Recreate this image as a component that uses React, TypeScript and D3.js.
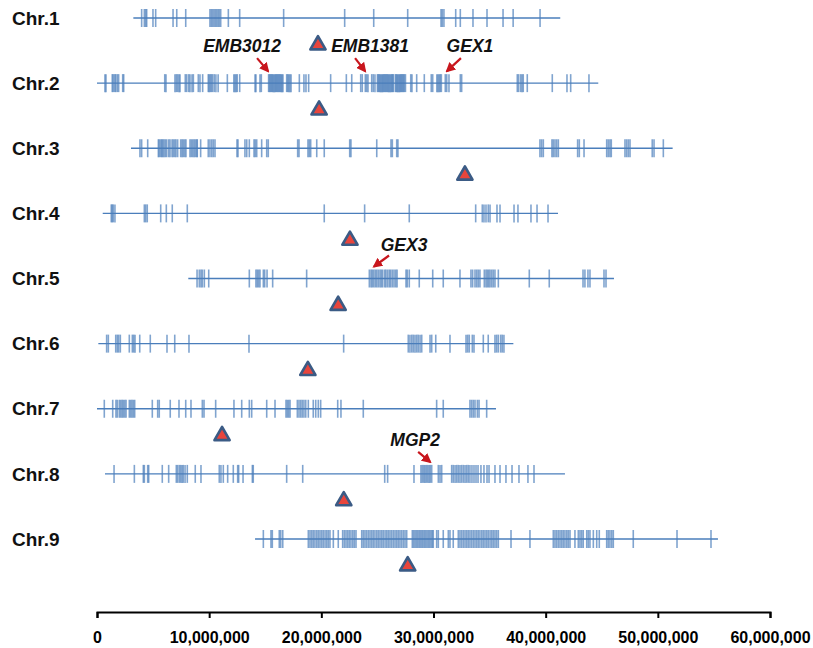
import React, { useEffect, useRef } from 'react';
import * as d3 from 'd3';

// chromosome names
const chromosomes = ['Chr.1', 'Chr.2', 'Chr.3', 'Chr.4', 'Chr.5', 'Chr.6', 'Chr.7', 'Chr.8', 'Chr.9'];

// chromosome span drawn as a line, Mb [start, end]
const spans: [number, number][] = [
  [3.24, 41.3], [0, 44.69], [3.03, 51.32], [0.51, 41.1], [8.14, 46.09],
  [0.12, 37.12], [0, 35.57], [0.71, 41.72], [14.09, 55.36],
];

// centromere position, Mb
const centromeres = [19.7, 19.8, 32.8, 22.55, 21.5, 18.8, 11.15, 22.0, 27.7];

// marker positions, Mb
const chr1 = [3.98, 4.22, 4.34, 4.43, 4.99, 5.23, 6.78, 7.11, 7.91, 10.07, 10.19, 10.31, 10.43, 10.55, 10.67, 10.79, 10.9, 11.03, 11.71, 12.72, 16.64, 22.08, 24.67, 27.7, 30.67, 30.78, 30.93, 31.98, 32.39, 33.52, 34.77, 36.2, 37.1, 39.5];
const chr2 = [0.71, 0.8, 1.36, 1.45, 1.58, 1.67, 1.81, 1.93, 2.29, 2.38, 6.04, 6.15, 6.95, 7.07, 7.19, 7.31, 7.4, 7.87, 8.0, 8.18, 8.29, 8.47, 8.59, 9.03, 9.18, 9.42, 9.92, 10.0, 10.1, 10.2, 10.3, 10.45, 10.6, 10.8, 11.62, 12.2, 12.3, 12.4, 12.5, 12.72, 14.09, 14.17, 14.53, 14.65,
  15.3, 15.38, 15.46, 15.54, 15.62, 15.7, 15.78, 15.86, 15.94, 16.02, 16.1, 16.18, 16.26, 16.34, 16.42, 16.5, 16.58, 16.91, 17.0, 17.1, 17.2, 17.3, 18.04, 18.45, 18.63, 18.87, 20.83, 22.23, 22.71, 23.51, 23.65, 23.92, 24.04, 24.16, 24.49, 24.63, 24.78,
  25.0, 25.08, 25.16, 25.24, 25.32, 25.4, 25.48, 25.56, 25.64, 25.72, 25.8, 25.88, 25.96, 26.04, 26.12, 26.2, 26.28, 26.36, 26.42, 26.6, 26.68, 26.76, 26.84, 26.92, 27.0, 27.08, 27.16, 27.24, 27.32, 27.4, 27.5,
  27.97, 28.08, 28.5, 29.18, 29.8, 29.93, 30.3, 30.4, 30.5, 30.6, 30.7, 31.05, 31.18, 31.38, 32.39, 32.51, 37.47, 37.59, 37.77, 37.89, 38.0, 38.36, 40.59, 41.9, 42.23, 43.86];
const chr3 = [3.83, 3.98, 4.52, 5.47, 5.55, 5.68, 5.77, 5.86, 5.97, 6.09, 6.21, 6.39, 6.51, 6.69, 6.8, 6.93, 7.04, 7.19, 7.46, 7.58, 7.69, 7.82, 7.93, 8.29, 8.41, 8.53, 8.65, 8.76, 8.89, 8.94, 9.24, 9.92, 10.07, 10.23, 10.37, 10.52, 12.48, 12.57, 13.19, 13.35, 13.58, 14.0, 14.11, 14.24, 14.68, 15.13, 15.27, 17.89, 18.01, 18.81, 18.93, 19.05, 19.59, 20.26, 22.53, 22.64, 24.94, 26.21, 26.33, 26.72, 26.83,
  39.49, 39.64, 39.79, 40.56, 40.68, 40.83, 40.98, 41.13, 42.85, 43.0, 43.42, 45.44, 45.58, 45.73, 45.85, 47.07, 47.22, 47.37, 47.52, 49.5, 49.66, 50.49];
const chr4 = [1.27, 1.36, 1.45, 1.6, 4.22, 4.34, 4.48, 5.68, 6.18, 6.71, 8.05, 20.26, 23.86, 27.84, 33.76, 34.35, 34.5, 34.68, 34.88, 35.04, 35.66, 35.93, 37.18, 37.53, 38.69, 39.23, 40.21];
const chr5 = [8.92, 9.12, 9.27, 9.39, 9.57, 9.96, 13.58, 14.17, 14.29, 14.41, 14.53, 14.83, 14.95, 15.16, 15.66, 18.69, 24.28, 24.43, 24.54, 24.67, 24.81, 24.94, 25.08, 25.23, 25.35, 25.47, 25.65, 25.76, 25.91, 26.06, 26.18, 26.33, 26.48, 26.63, 26.75, 27.55, 27.66, 27.84, 28.73, 29.93, 30.87, 32.36,
  33.34, 33.49, 33.7, 33.85, 33.99, 34.14, 34.53, 34.68, 34.8, 34.92, 35.04, 35.19, 35.33, 35.48, 35.78, 38.54, 40.32, 43.33, 43.5, 43.77, 43.95, 45.2, 45.38];
const chr6 = [0.86, 1.01, 1.67, 1.81, 1.93, 2.08, 2.88, 3.15, 3.27, 3.39, 3.81, 4.75, 6.24, 6.93, 8.2, 13.55, 21.99, 27.75, 27.9, 28.06, 28.2, 28.35, 28.5, 28.64, 28.8, 28.95, 29.69, 29.84, 30.2, 31.47, 32.9, 33.05, 33.19, 33.46, 33.61, 34.44, 34.88, 35.48, 35.63, 35.78, 35.99, 36.13, 36.28];
const chr7 = [0.65, 1.4, 1.69, 1.81, 1.99, 2.11, 2.23, 2.34, 2.47, 2.59, 2.88, 3.0, 3.12, 3.24, 3.36, 4.93, 5.41, 5.55, 6.53, 7.31, 7.91, 8.38, 9.39, 9.54, 10.58, 12.21, 12.9, 13.58, 13.79, 15.13, 15.87, 16.85, 16.97, 17.09, 17.21, 17.86, 18.01, 18.16, 18.3, 18.45, 18.61, 18.84, 19.28, 19.5, 19.73, 19.94, 21.46, 21.75, 23.74, 30.28, 30.87, 33.25, 33.4, 33.55, 33.7, 33.91, 34.06, 34.74];
const chr8 = [1.52, 3.33, 4.13, 4.22, 4.52, 4.61, 5.82, 6.39, 7.07, 7.19, 7.34, 7.46, 7.58, 7.69, 7.85, 8.05, 8.76, 9.27, 10.9, 11.05, 11.26, 11.65, 12.15, 12.54, 12.63, 13.02, 13.85, 13.93, 16.91, 18.34, 25.65, 25.91, 28.26, 28.88, 29.0, 29.13, 29.24, 29.36, 29.48, 29.6, 29.71, 29.84, 30.43, 30.58, 30.73,
  31.62, 31.76, 31.92, 32.07, 32.21, 32.36, 32.51, 32.66, 32.81, 32.96, 33.1, 33.25, 33.43, 33.61, 33.79, 33.97, 34.23, 34.5, 34.77, 34.95, 35.48, 35.93, 36.46, 37.0, 37.62, 38.42, 38.96];
const chr9 = [14.83, 15.51, 15.63, 16.25, 16.38, 16.56, 18.84, 18.99, 19.14, 19.28, 19.43, 19.59, 19.73, 19.88, 20.03, 20.17, 20.33, 20.48, 20.62, 20.77, 21.07, 21.51, 21.9, 22.05, 22.2, 22.35, 22.49, 22.64, 22.8, 22.94, 23.09,
  23.6, 23.74, 23.89, 24.04, 24.19, 24.34, 24.49, 24.63, 24.78, 24.94, 25.08, 25.23, 25.38, 25.52, 25.68, 25.83, 25.97, 26.12, 26.27, 26.42, 26.57, 26.72, 26.86, 27.01, 27.16, 27.31, 27.46, 27.61,
  28.11, 28.23, 28.35, 28.47, 28.59, 28.71, 28.82, 28.95, 29.06, 29.18, 29.3, 29.42, 29.54, 29.66, 29.78, 29.89, 29.98, 30.28, 30.43, 30.87, 31.32, 31.47, 31.76,
  32.21, 32.36, 32.51, 32.66, 32.81, 32.96, 33.1, 33.25, 33.4, 33.55, 33.7, 33.85, 33.99, 34.14, 34.3, 34.44, 34.59, 34.74, 34.88, 35.04, 35.19, 35.33, 35.48, 35.63, 35.78, 36.91, 38.6,
  40.68, 40.83, 40.98, 41.13, 41.28, 41.43, 41.57, 41.72, 41.88, 42.02, 42.17, 42.61, 42.91, 43.06, 43.21, 43.35, 43.66, 43.8, 43.95, 44.25, 44.55, 44.78, 45.44, 45.58, 45.73, 45.89, 46.03, 47.81, 51.71, 54.74];
const markers = [chr1, chr2, chr3, chr4, chr5, chr6, chr7, chr8, chr9];

// labelled genes
const geneNames = ['EMB3012', 'EMB1381', 'GEX1', 'GEX3', 'MGP2'];
const geneChr = ['Chr.2', 'Chr.2', 'Chr.2', 'Chr.5', 'Chr.8'];
const genePos = [15.25, 23.9, 31.2, 24.7, 29.7];

const axisTicks = [0, 10, 20, 30, 40, 50, 60];

// label/arrow placement relative to the arrow tip (layout only)
const labelLayout: Record<string, { ax: number; ay: number; tx: number; ty: number }> = {
  EMB3012: { ax: -11, ay: -13, tx: -26, ty: -19 },
  EMB1381: { ax: -10, ay: -13, tx: 5, ty: -19 },
  GEX1: { ax: 14, ay: -13, tx: 23, ty: -19 },
  GEX3: { ax: 15, ay: -11, tx: 30, ty: -16 },
  MGP2: { ax: -12, ay: -10, tx: -15, ty: -16 },
};

const W = 813;
const H = 648;

export default function App() {
  const ref = useRef<SVGSVGElement>(null);

  useEffect(() => {
    if (!ref.current) return;
    const svg = d3.select(ref.current);
    svg.selectAll('*').remove();

    const x = d3.scaleLinear().domain([0, 60]).range([97, 770]);
    const y = d3.scalePoint<string>().domain(chromosomes).range([18, 539]);

    const blue = '#4a7ebb';

    svg.append('defs').append('marker')
      .attr('id', 'arr')
      .attr('viewBox', '0 0 10 10')
      .attr('refX', 8)
      .attr('refY', 5)
      .attr('markerWidth', 4.5)
      .attr('markerHeight', 4.5)
      .attr('orient', 'auto')
      .append('path')
      .attr('d', 'M0,0 L10,5 L0,10 z')
      .attr('fill', '#c8161d');

    // 1) CHROMOSOME LINES AND MARKERS
    chromosomes.forEach((c, i) => {
      const cy = y(c)!;
      const g = svg.append('g');
      g.append('line')
        .attr('x1', x(spans[i][0]))
        .attr('x2', x(spans[i][1]))
        .attr('y1', cy)
        .attr('y2', cy)
        .attr('stroke', blue)
        .attr('stroke-width', 1.4);

      g.selectAll('line.m')
        .data(markers[i])
        .enter()
        .append('line')
        .attr('class', 'm')
        .attr('x1', d => x(d))
        .attr('x2', d => x(d))
        .attr('y1', cy - 9)
        .attr('y2', cy + 9)
        .attr('stroke', blue)
        .attr('stroke-opacity', 0.7)
        .attr('stroke-width', 1.6);

      g.append('text')
        .attr('x', 12)
        .attr('y', cy)
        .attr('dy', '0.35em')
        .text(c)
        .attr('font-family', 'Liberation Sans, Arial, sans-serif')
        .attr('font-weight', 'bold')
        .attr('font-size', 19)
        .attr('fill', '#111');

      // centromere
      g.append('path')
        .attr('d', d3.symbol(d3.symbolTriangle, 100)())
        .attr('transform', `translate(${x(centromeres[i])},${cy + 27})`)
        .attr('fill', '#e8453c')
        .attr('stroke', '#3b5b85')
        .attr('stroke-width', 2.6)
        .attr('stroke-linejoin', 'round');
    });

    // 2) GENE LABELS
    geneNames.forEach((name, i) => {
      const L = labelLayout[name];
      const tipX = x(genePos[i]);
      const tipY = y(geneChr[i])! - 12;
      svg.append('line')
        .attr('x1', tipX + L.ax)
        .attr('y1', tipY + L.ay)
        .attr('x2', tipX)
        .attr('y2', tipY)
        .attr('stroke', '#c8161d')
        .attr('stroke-width', 2.2)
        .attr('marker-end', 'url(#arr)');
      svg.append('text')
        .attr('x', tipX + L.tx)
        .attr('y', tipY + L.ty)
        .attr('text-anchor', 'middle')
        .text(name)
        .attr('font-family', 'Liberation Sans, Arial, sans-serif')
        .attr('font-weight', 'bold')
        .attr('font-style', 'italic')
        .attr('font-size', 17.5)
        .attr('fill', '#111');
    });

    // 3) AXIS
    const axisY = 612;
    const axis = svg.append('g')
      .attr('transform', `translate(0,${axisY})`)
      .call(
        d3.axisBottom(x)
          .tickValues(axisTicks)
          .tickSize(6)
          .tickSizeOuter(6)
          .tickPadding(14)
          .tickFormat(d => d3.format(',')((d as number) * 1e6))
      );
    axis.select('.domain').attr('stroke', '#000').attr('stroke-width', 2);
    axis.selectAll('.tick line').attr('stroke', '#000').attr('stroke-width', 2);
    axis.selectAll('.tick text')
      .attr('font-family', 'Liberation Sans, Arial, sans-serif')
      .attr('font-weight', 'bold')
      .attr('font-size', 16)
      .attr('fill', '#000');
  }, []);

  return (
    <svg
      ref={ref}
      width={W}
      height={H}
      style={{ position: 'absolute', left: 0, top: 0, background: '#fff' }}
    />
  );
}
